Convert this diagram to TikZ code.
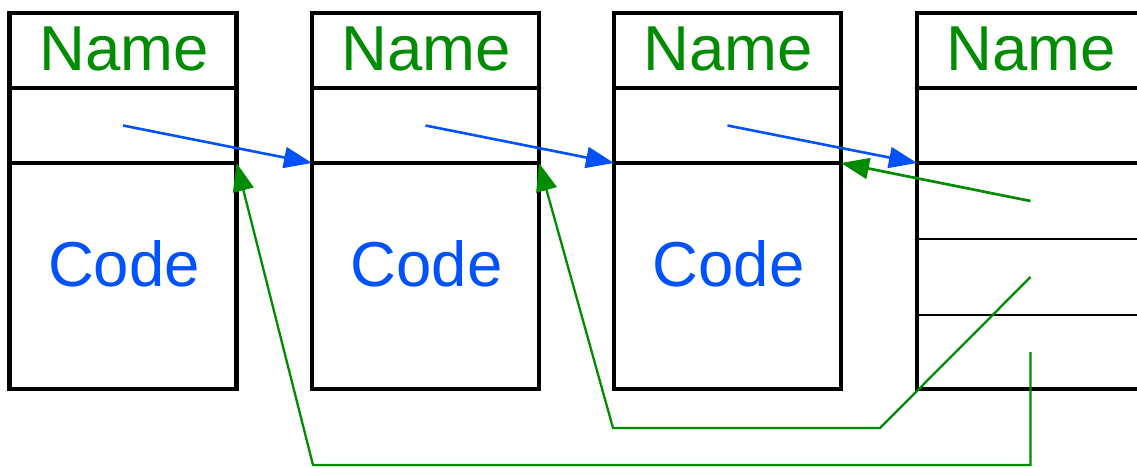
\documentclass[tikz,border=0pt]{standalone}
\usepackage{fontspec}
\setmainfont{Liberation Sans}
\usetikzlibrary{arrows.meta}
\definecolor{dgreen}{RGB}{0,140,0}
\definecolor{lblue}{RGB}{0,82,255}
\tikzset{
  cell/.style={draw=black, line width=4.4pt, outer sep=0pt, inner sep=0pt, minimum width=227pt},
  thincell/.style={draw=black, line width=2pt, outer sep=0pt, inner sep=0pt, minimum width=227pt},
  nametxt/.style={text=dgreen, font=\fontsize{63.5}{63.5}\selectfont, inner sep=0pt, anchor=base},
  codetxt/.style={text=lblue, font=\fontsize{63.5}{63.5}\selectfont, inner sep=0pt, anchor=base},
  link/.style={draw=lblue, line width=2.6pt, -{Triangle[length=28pt,width=21pt]}},
  back/.style={draw=dgreen, line width=2.3pt, -{Triangle[length=28pt,width=21pt]}},
}
\begin{document}
\begin{tikzpicture}[x=1pt,y=-1pt]
\useasboundingbox (0,0) rectangle (1137,466);
\clip (0,0) rectangle (1137,466);
% block 1
\node[cell, minimum height=75pt] (n1) at (123,50.5) {};
\node[cell, minimum height=75pt] (p1) at (123,125.5) {};
\node[cell, minimum height=226pt] (c1) at (123,276) {};
\node[nametxt] (tn1) at (124,70) {Name};
\node[codetxt] (tc1) at (124,286) {Code};
% block 2
\node[cell, minimum height=75pt] (n2) at (425.5,50.5) {};
\node[cell, minimum height=75pt] (p2) at (425.5,125.5) {};
\node[cell, minimum height=226pt] (c2) at (425.5,276) {};
\node[nametxt] (tn2) at (426.5,70) {Name};
\node[codetxt] (tc2) at (426.5,286) {Code};
% block 3
\node[cell, minimum height=75pt] (n3) at (727.5,50.5) {};
\node[cell, minimum height=75pt] (p3) at (727.5,125.5) {};
\node[cell, minimum height=226pt] (c3) at (727.5,276) {};
\node[nametxt] (tn3) at (728.5,70) {Name};
\node[codetxt] (tc3) at (728.5,286) {Code};
% block 4
\node[cell, minimum height=75pt] (n4) at (1030.5,50.5) {};
\node[cell, minimum height=75pt] (p4) at (1030.5,125.5) {};
\node[thincell, minimum height=76pt] (r1) at (1030.5,201) {};
\node[thincell, minimum height=76pt] (r2) at (1030.5,277) {};
\node[thincell, minimum height=74pt] (r3) at (1030.5,352) {};
\node[cell, minimum height=226pt] (c4) at (1030.5,276) {};
\node[nametxt] (tn4) at (1031.5,70) {Name};
% blue links
\draw[link] (p1.center) -- (c2.north west);
\draw[link] (p2.center) -- (c3.north west);
\draw[link] (p3.center) -- (c4.north west);
% green back links
\coordinate (b2a) at (880,428);
\coordinate (b2b) at (613,428);
\coordinate (b3a) at (1030.5,465);
\coordinate (b3b) at (313,465);
\draw[back, line width=2.7pt] (r1.center) -- (c3.north east);
\draw[back] (r2.center) -- (b2a) -- (b2b) -- (c2.north east);
\draw[back] (r3.center) -- (b3a) -- (b3b) -- (c1.north east);
\end{tikzpicture}
\end{document}
